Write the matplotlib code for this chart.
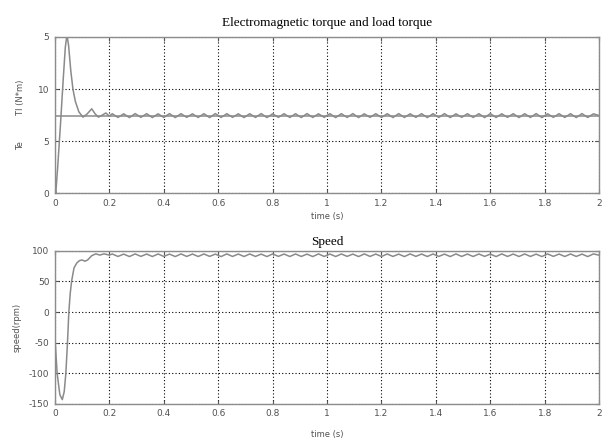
import numpy as np
import matplotlib
matplotlib.use("Agg")
import matplotlib.pyplot as plt

plt.rcParams['axes.unicode_minus'] = False

# start-up transient of electromagnetic torque
te_t = [0.0, 0.001, 0.003, 0.01, 0.02, 0.03, 0.038, 0.044, 0.05, 0.058, 0.066,
        0.075, 0.088, 0.103, 0.118, 0.135, 0.148, 0.16, 0.174, 0.187, 0.2]
te_v = [8.4, 0.3, 0.0, 2.5, 6.5, 10.8, 14.0, 15.2, 14.2, 11.8, 10.0,
        8.8, 7.8, 7.3, 7.6, 8.1, 7.6, 7.3, 7.5, 7.7, 7.4]

# steady-state ripple of Te after 0.2 s (alternating crest / trough)
te_ripple = [7.63, 7.27, 7.62, 7.26, 7.64, 7.28, 7.63, 7.26, 7.62, 7.27,
             7.64, 7.26, 7.63, 7.28, 7.62, 7.27, 7.63, 7.26, 7.64, 7.27,
             7.63, 7.28, 7.62, 7.26, 7.63, 7.27, 7.64, 7.26, 7.62, 7.28,
             7.63, 7.27, 7.63, 7.26, 7.64, 7.27, 7.62, 7.28, 7.63, 7.26,
             7.63, 7.27, 7.64, 7.26, 7.62, 7.28, 7.63, 7.27, 7.63, 7.26,
             7.64, 7.27, 7.62, 7.28, 7.63, 7.26, 7.63, 7.27, 7.64, 7.26,
             7.62, 7.28, 7.63, 7.27, 7.63, 7.26, 7.64, 7.27, 7.62, 7.28,
             7.63, 7.26, 7.63, 7.27, 7.64, 7.26, 7.62, 7.28, 7.63, 7.27,
             7.63, 7.26, 7.64, 7.27, 7.62, 7.45]

# load torque
tl_t = [0.0, 2.0]
tl_v = [7.42, 7.42]

# start-up transient of speed
sp_t = [0.0, 0.001, 0.008, 0.018, 0.027, 0.034, 0.04, 0.046, 0.051, 0.056,
        0.061, 0.07, 0.08, 0.09, 0.1, 0.11, 0.12, 0.135, 0.15, 0.165, 0.18, 0.2]
sp_v = [-18, -50, -100, -135, -143, -130, -100, -50, 0, 30,
        50, 72, 80, 84, 85, 83, 85, 92, 95, 93, 95, 93]

# steady-state speed ripple
sp_ripple = [94.8, 90.8, 94.6, 90.6, 94.9, 90.9, 94.7, 90.7, 94.8, 90.8,
             94.6, 90.6, 94.9, 90.8, 94.7, 90.7, 94.8, 90.9, 94.6, 90.6,
             94.9, 90.8, 94.7, 90.7, 94.8, 90.8, 94.6, 90.6, 94.9, 90.9,
             94.7, 90.7, 94.8, 90.8, 94.6, 90.6, 94.9, 90.8, 94.7, 90.7,
             94.8, 90.9, 94.6, 90.6, 94.9, 90.8, 94.7, 90.7, 94.8, 90.8,
             94.6, 90.6, 94.9, 90.9, 94.7, 90.7, 94.8, 90.8, 94.6, 90.6,
             94.9, 90.8, 94.7, 90.7, 94.8, 90.9, 94.6, 90.6, 94.9, 90.8,
             94.7, 90.7, 94.8, 90.8, 94.6, 90.6, 94.9, 90.9, 94.7, 90.7,
             94.8, 90.8, 94.6, 90.6, 94.9, 92.8]

x_ticks = [0, 0.2, 0.4, 0.6, 0.8, 1, 1.2, 1.4, 1.6, 1.8, 2]
x_labels = ["0", "0.2", "0.4", "0.6", "0.8", "1", "1.2", "1.4", "1.6", "1.8", "2"]
te_yticks = [0, 5, 10, 15]
te_ylabels = ["0", "5", "10", "5"]
sp_yticks = [-150, -100, -50, 0, 50, 100]

LINE = "#8a8a8a"
EDGE = "#8c8c8c"
TXT = "#505050"

rip_t = np.linspace(0.2 + 0.0105, 2.0, len(te_ripple))
te_all_t = np.concatenate([te_t, rip_t])
te_all_v = np.concatenate([te_v, te_ripple])
sp_all_t = np.concatenate([sp_t, rip_t])
sp_all_v = np.concatenate([sp_v, sp_ripple])

fig = plt.figure(figsize=(6.04, 4.40), dpi=100)
ax1 = fig.add_axes([0.091, 0.561, 0.901, 0.355])
ax2 = fig.add_axes([0.091, 0.082, 0.901, 0.348])


def style(ax):
    ax.set_xlim(0, 2)
    ax.set_xticks(x_ticks)
    ax.set_xticklabels(x_labels)
    ax.grid(True, color="black", linestyle=(0, (1, 2)), linewidth=0.8)
    for s in ax.spines.values():
        s.set_color(EDGE)
        s.set_linewidth(1.0)
    ax.tick_params(direction="in", top=True, right=True, length=3,
                   color="#555555", labelsize=6.5, labelcolor=TXT, pad=4)


ax1.plot(tl_t, tl_v, color=LINE, linewidth=1.1)
ax1.plot(te_all_t, te_all_v, color=LINE, linewidth=1.1)
style(ax1)
ax1.set_ylim(0, 15)
ax1.set_yticks(te_yticks)
ax1.set_yticklabels(te_ylabels)
ax1.set_xlabel("time (s)", fontsize=6, color=TXT, labelpad=3)
ax1.set_ylabel("Te          Tl (N*m)", fontsize=6, color=TXT, labelpad=9)
ax1.set_title("Electromagnetic torque and load torque", fontsize=9.5,
              family="Liberation Serif", pad=8)

ax2.plot(sp_all_t, sp_all_v, color=LINE, linewidth=1.1)
style(ax2)
ax2.set_ylim(-150, 100)
ax2.set_yticks(sp_yticks)
ax2.set_xlabel("time (s)", fontsize=6, color=TXT, labelpad=8)
ax2.set_ylabel("speed(rpm)", fontsize=6, color=TXT, labelpad=5)
ax2.set_title("Speed", fontsize=9.5, family="Liberation Serif", pad=4)

fig.savefig("out.png", dpi=100)
